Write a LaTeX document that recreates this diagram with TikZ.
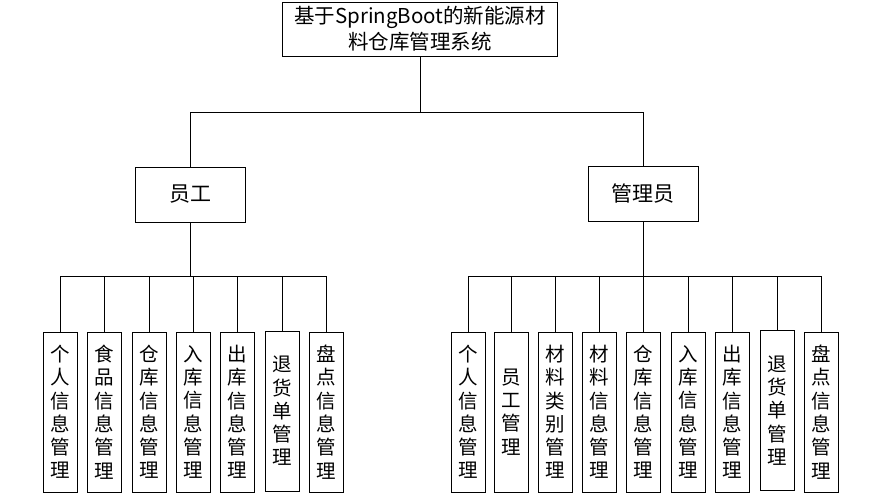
\documentclass[tikz,border=0pt]{standalone}
\usepackage{fontspec}
\setmainfont{Noto Sans CJK SC}
\begin{document}
\begin{tikzpicture}
  [x=1pt,y=-1pt,line width=0.8pt,every node/.style={draw,inner sep=0pt,align=center}]
  \tikzstyle{module} = [minimum width=34pt,minimum height=160pt,font=\fontsize{19.5}{23.3}\selectfont]
  \tikzstyle{role} = [minimum width=110pt,minimum height=55pt,font=\fontsize{21}{24}\selectfont]
  \useasboundingbox (0,0) rectangle (879,502);
  \node[minimum width=275pt,minimum height=54pt,font=\fontsize{20.5}{26}\selectfont] (sys) at (420,29) {基于SpringBoot的新能源材\\料仓库管理系统};
  \node[role] (emp) at (190,194.5) {员工};
  \node[role] (adm) at (643,193.5) {管理员};
  % employee modules
  \node[module] (e1) at (60.5,412) {个\\人\\信\\息\\管\\理};
  \node[module] (e2) at (104.5,412) {食\\品\\信\\息\\管\\理};
  \node[module] (e3) at (149,412) {仓\\库\\信\\息\\管\\理};
  \node[module] (e4) at (193,412) {入\\库\\信\\息\\管\\理};
  \node[module] (e5) at (237.5,412) {出\\库\\信\\息\\管\\理};
  \node[module] (e6) at (282,411) {退\\货\\单\\管\\理};
  \node[module] (e7) at (326,412) {盘\\点\\信\\息\\管\\理};
  % admin modules
  \node[module] (a1) at (468,412) {个\\人\\信\\息\\管\\理};
  \node[module] (a2) at (511,412) {员\\工\\管\\理};
  \node[module] (a3) at (555.5,412) {材\\料\\类\\别\\管\\理};
  \node[module] (a4) at (599.5,412) {材\\料\\信\\息\\管\\理};
  \node[module] (a5) at (643.5,412) {仓\\库\\信\\息\\管\\理};
  \node[module] (a6) at (688,412) {入\\库\\信\\息\\管\\理};
  \node[module] (a7) at (732.5,412) {出\\库\\信\\息\\管\\理};
  \node[module] (a8) at (777,410.5) {退\\货\\单\\管\\理};
  \node[module] (a9) at (821,412) {盘\\点\\信\\息\\管\\理};

  \coordinate (tbus) at (420,112);
  \coordinate (ebus) at (190,276);
  \coordinate (abus) at (643,276);
\foreach \dest in {emp,adm}
   \draw (sys) -- (tbus) -| (\dest);
\foreach \i in {1,...,7}
   \draw (emp) -- (ebus) -| (e\i);
\foreach \i in {1,...,9}
   \draw (adm) -- (abus) -| (a\i);
\end{tikzpicture}
\end{document}
